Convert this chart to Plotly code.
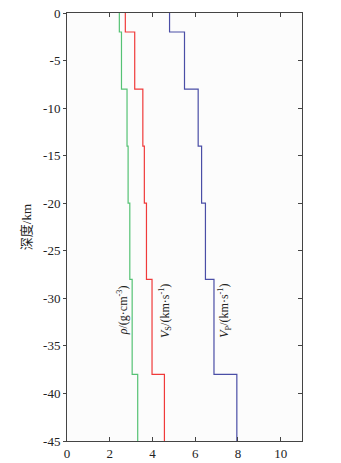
import plotly.graph_objects as go

# layer boundaries (km, negative downward)
layer_tops = [0, -2, -8, -14, -20, -28, -38]
bottom_depth = -45

vp = [4.8, 5.5, 6.14, 6.3, 6.48, 6.88, 7.95]
vs = [2.73, 3.17, 3.55, 3.62, 3.72, 3.98, 4.56]
rho = [2.45, 2.55, 2.81, 2.86, 2.94, 3.05, 3.31]

x_ticks = [0, 2, 4, 6, 8, 10]
y_ticks = [0, -5, -10, -15, -20, -25, -30, -35, -40, -45]
y_tick_text = ["0", "-5", "-10", "-15", "-20", "-25", "-30", "-35", "-40", "-45"]


def step(values):
    xs, ys = [], []
    bottoms = layer_tops[1:] + [bottom_depth]
    for v, t, b in zip(values, layer_tops, bottoms):
        xs += [v, v]
        ys += [t, b]
    return xs, ys


fig = go.Figure()
for vals, col in [(rho, "#55c274"), (vs, "#f03a3a"), (vp, "#4a4ea6")]:
    xs, ys = step(vals)
    fig.add_trace(go.Scatter(x=xs, y=ys, mode="lines",
                             line=dict(color=col, width=1.2),
                             showlegend=False, hoverinfo="skip"))
# invisible trace to anchor the right-hand axis
fig.add_trace(go.Scatter(x=[0], y=[0], yaxis="y2", mode="markers",
                         marker=dict(opacity=0), showlegend=False, hoverinfo="skip"))

serif = "Liberation Serif, Times New Roman, serif"
labels = [
    (2.6, "<i>ρ</i>/(g·cm<sup>-3</sup>)"),
    (4.6, "<i>V</i><sub>S</sub>/(km·s<sup>-1</sup>)"),
    (7.4, "<i>V</i><sub>P</sub>/(km·s<sup>-1</sup>)"),
]
for x, txt in labels:
    fig.add_annotation(x=x, y=-31.3, text=txt, showarrow=False,
                       textangle=-90, font=dict(family=serif, size=12, color="#222222"))

tickfont = dict(family=serif, size=13, color="#222222")

fig.update_layout(
    template="none",
    width=341, height=463,
    font=dict(family=serif, size=13, color="#222222"),
    margin=dict(l=67, r=39, t=13, b=22),
    paper_bgcolor="white", plot_bgcolor="#fcfcfc",
    xaxis=dict(range=[0, 11], tickvals=x_ticks, showline=True, linecolor="#444444",
               linewidth=1, mirror="ticks", ticks="inside", ticklen=4,
               tickcolor="#444444", showgrid=False, zeroline=False, tickfont=tickfont),
    yaxis=dict(range=[-45, 0], tickvals=y_ticks, ticktext=y_tick_text,
               showline=True, linecolor="#444444", linewidth=1, mirror=True,
               ticks="outside", ticklen=3, tickcolor="#444444", showgrid=False,
               zeroline=False, tickfont=tickfont,
               title=dict(text="深度/km", standoff=8,
                          font=dict(family="Liberation Serif, Noto Sans CJK SC", size=13, color="#222222"))),
    yaxis2=dict(range=[-45, 0], tickvals=y_ticks, overlaying="y", side="right",
                showticklabels=False, ticks="inside", ticklen=4, tickcolor="#444444",
                showline=False, showgrid=False, zeroline=False),
)
fig.write_html("out.html", config={"displayModeBar": False, "staticPlot": True})
with open("out.html", encoding="utf-8") as f:
    html = f.read()
html = html.replace("<head>", "<head><style>html,body{margin:0;padding:0;overflow:hidden}</style>", 1)
with open("out.html", "w", encoding="utf-8") as f:
    f.write(html)
